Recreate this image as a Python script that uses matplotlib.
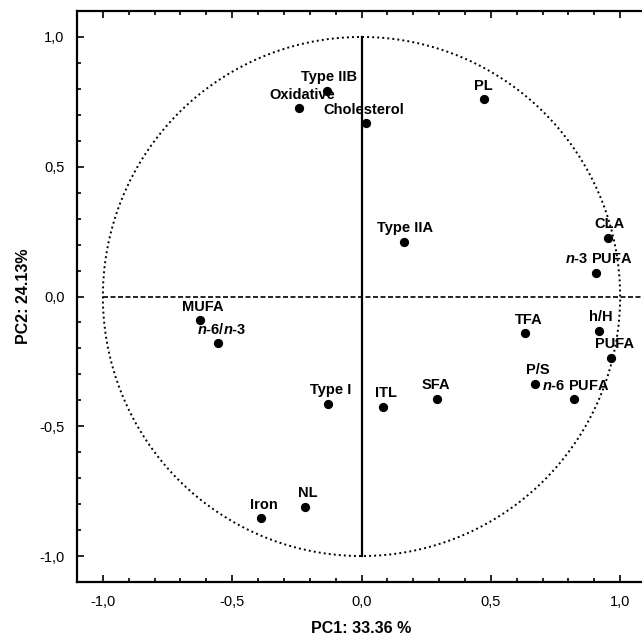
import matplotlib
matplotlib.use("Agg")
import matplotlib.pyplot as plt
import numpy as np
from matplotlib.ticker import MultipleLocator, FixedLocator

plt.rcParams['font.family'] = ['Liberation Sans', 'DejaVu Sans']
plt.rcParams['mathtext.fontset'] = 'custom'
plt.rcParams['mathtext.it'] = 'Liberation Sans:bold:italic'
plt.rcParams['mathtext.rm'] = 'Liberation Sans:bold'
plt.rcParams['mathtext.bf'] = 'Liberation Sans:bold'

labels = ['Type IIB', 'Oxidative', 'Cholesterol', 'PL', 'Type IIA', 'CLA',
          '$n$-3 PUFA', 'MUFA', '$n$-6/$n$-3', 'TFA', 'h/H', 'PUFA', 'P/S',
          '$n$-6 PUFA', 'SFA', 'Type I', 'ITL', 'NL', 'Iron']
pc1 = [-0.133, -0.241, 0.017, 0.472, 0.164, 0.952, 0.907, -0.624, -0.555,
       0.632, 0.918, 0.964, 0.672, 0.820, 0.292, -0.129, 0.085, -0.218, -0.390]
pc2 = [0.791, 0.725, 0.670, 0.760, 0.210, 0.227, 0.092, -0.092, -0.181,
       -0.142, -0.133, -0.236, -0.336, -0.394, -0.394, -0.415, -0.426, -0.811, -0.855]
tick_vals = [-1.0, -0.5, 0.0, 0.5, 1.0]
tick_text = ['-1,0', '-0,5', '0,0', '0,5', '1,0']
xlabel = 'PC1: 33.36 %'
ylabel = 'PC2: 24.13%'

# label offsets in points (dx, dy)
offsets = [(1.5, 7), (2, 7), (-1.5, 6.5), (0, 7), (0.5, 7), (1.5, 7),
           (2, 7), (2, 7), (3, 7), (2.5, 7), (1, 7), (3, 7), (1.5, 7),
           (1.5, 6.5), (-1, 7), (1.5, 7), (1.5, 7), (2, 7), (2, 7)]

fig = plt.figure(figsize=(6.42, 6.39), dpi=100)
ax = fig.add_axes([77/642, 57/639, 569/642, 571/639])
ax.set_xlim(-1.1, 1.1)
ax.set_ylim(-1.1, 1.1)

# unit circle
t = np.linspace(0, 2*np.pi, 400)
ax.plot(np.cos(t), np.sin(t), color='black', lw=1.4, ls=(0, (1, 1.6)))
# axes lines
ax.plot([-1.0, 1.1], [0, 0], color='black', lw=1.2, ls=(0, (3, 1.5)))
ax.plot([0, 0], [-1.0, 1.0], color='black', lw=1.6)

ax.scatter(pc1, pc2, s=32, color='black', zorder=3)
for lab, x, y, off in zip(labels, pc1, pc2, offsets):
    ax.annotate(lab, (x, y), xytext=off, textcoords='offset points',
                ha='center', va='baseline', fontsize=10.5, fontweight='bold')

ax.xaxis.set_major_locator(FixedLocator(tick_vals))
ax.yaxis.set_major_locator(FixedLocator(tick_vals))
ax.set_xticklabels(tick_text)
ax.set_yticklabels(tick_text)
ax.xaxis.set_minor_locator(MultipleLocator(0.1))
ax.yaxis.set_minor_locator(MultipleLocator(0.1))
ax.tick_params(which='both', direction='in', top=True, right=False,
               labelsize=10.5, width=1.2)
ax.tick_params(which='major', length=5, pad=9)
ax.tick_params(which='minor', length=3)
for s in ['left', 'bottom', 'top']:
    ax.spines[s].set_linewidth(1.6)
ax.spines['right'].set_visible(False)

ax.set_xlabel(xlabel, fontsize=11.5, fontweight='bold', labelpad=9)
ax.set_ylabel(ylabel, fontsize=11.5, fontweight='bold', labelpad=6)

fig.savefig('out.png', dpi=100)
